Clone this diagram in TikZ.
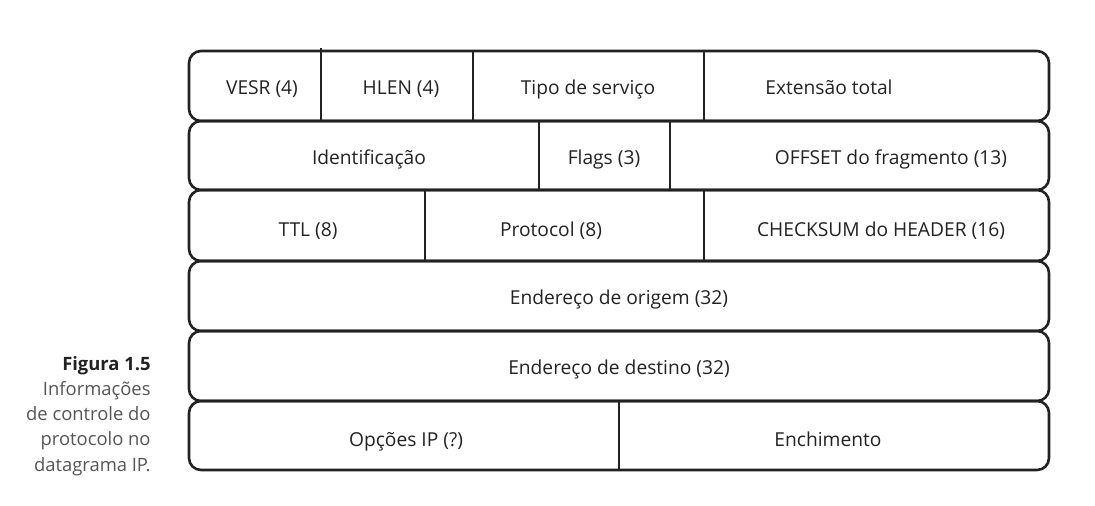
\documentclass[tikz,border=0pt]{standalone}
\usepackage{fontspec}
\setmainfont{Open Sans}
\usetikzlibrary{calc}

\definecolor{linha}{HTML}{222222}
\definecolor{legenda}{HTML}{555555}

\tikzset{
    campo/.style={draw=linha, line width=1.3pt, rounded corners=6pt},
    divisor/.style={draw=linha, line width=1.3pt},
    rotulo/.style={text=linha, font=\fontsize{9.6}{11}\selectfont, inner sep=0pt, anchor=base}
}

\begin{document}
\begin{tikzpicture}[x=0.5pt, y=-0.5pt]
        \useasboundingbox (0,0) rectangle (1095,505);

        % linhas do cabecalho
        \draw[campo] (189,51) rectangle (1049,121);
        \draw[campo] (189,121) rectangle (1049,190);
        \draw[campo] (189,190) rectangle (1049,261);
        \draw[campo] (189,261) rectangle (1049,331);
        \draw[campo] (189,331) rectangle (1049,401);
        \draw[campo] (189,401) rectangle (1049,470);

        % divisores
        \draw[divisor] (321,48) -- (321,121);
        \draw[divisor] (473,51) -- (473,121);
        \draw[divisor] (704,51) -- (704,121);
        \draw[divisor] (539,121) -- (539,190);
        \draw[divisor] (670,121) -- (670,190);
        \draw[divisor] (425,190) -- (425,261);
        \draw[divisor] (704,190) -- (704,261);
        \draw[divisor] (619,401) -- (619,470);

        % campos (posicao pela linha de base)
        \node[rotulo] (vesr) at (262,94) {VESR (4)};
        \node[rotulo] (hlen) at (401,94) {HLEN (4)};
        \node[rotulo] (tipo) at (588,94) {Tipo de serviço};
        \node[rotulo] (ext) at (829,94) {Extensão total};

        \node[rotulo] (ident) at (369,164) {Identificação};
        \node[rotulo] (flags) at (604,164) {Flags (3)};
        \node[rotulo] (offset) at (891,164) {OFFSET do fragmento (13)};

        \node[rotulo] (ttl) at (308,236) {TTL (8)};
        \node[rotulo] (proto) at (551,236) {Protocol (8)};
        \node[rotulo] (check) at (881,236) {CHECKSUM do HEADER (16)};

        \node[rotulo] (origem) at (619,304) {Endereço de origem (32)};
        \node[rotulo] (destino) at (619,374) {Endereço de destino (32)};

        \node[rotulo] (opcoes) at (406,446) {Opções IP (?)};
        \node[rotulo] (ench) at (828,446) {Enchimento};

        % legenda
        \node[anchor=north east, align=right, inner sep=0pt, text=legenda,
              font=\fontsize{9.2}{12.6}\selectfont] (fig) at (151,356)
              {\textcolor{linha}{\textbf{Figura 1.5}}\\Informações\\de controle do\\protocolo no\\datagrama IP.};
\end{tikzpicture}
\end{document}
